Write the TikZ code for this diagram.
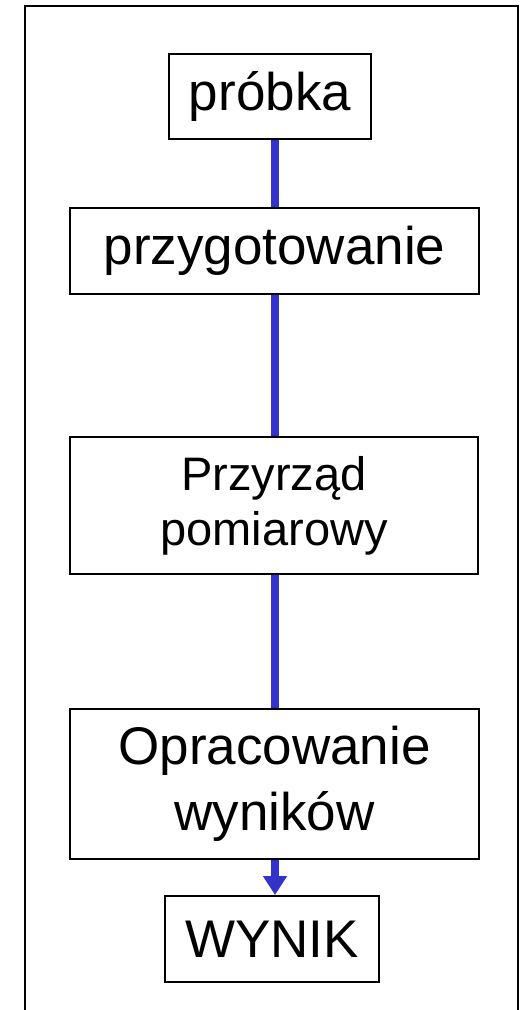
\documentclass[tikz,border=0pt]{standalone}
\usepackage{fontspec}
\setmainfont{Liberation Sans}
\usetikzlibrary{arrows.meta}
\definecolor{flowblue}{HTML}{3333CC}
\begin{document}
\begin{tikzpicture}[x=1pt,y=-1pt,
  stepbox/.style={draw=black, line width=2pt, fill=white, inner sep=0pt, align=center, text=black},
  flow/.style={draw=flowblue, line width=8pt},
  bigfont/.style={font=\fontsize{53}{66}\selectfont},
  midfont/.style={font=\fontsize{47}{55}\selectfont}]
\useasboundingbox (0,0) rectangle (528,1010);
\clip (0,0) rectangle (528,1010);
\draw[line width=2pt] (25,1040) -- (25,6) -- (518,6) -- (518,1040);
\coordinate (linex) at (275,0);
\node[stepbox, bigfont, minimum width=202pt, minimum height=85pt] (probka) at (270,96.5) {próbka};
\node[stepbox, bigfont, minimum width=409pt, minimum height=86pt] (przyg) at (274.5,251) {przygotowanie};
\node[stepbox, midfont, minimum width=408pt, minimum height=137pt] (przyrzad) at (274,505.5) {Przyrząd\\pomiarowy};
\node[stepbox, bigfont, minimum width=409pt, minimum height=150pt] (oprac) at (274.5,784) {Opracowanie\\wyników};
\node[stepbox, bigfont, minimum width=214pt, minimum height=86pt] (wynik) at (272,939) {WYNIK};
\draw[flow] (probka.south -| linex) -- (przyg.north -| linex);
\draw[flow] (przyg.south -| linex) -- (przyrzad.north -| linex);
\draw[flow] (przyrzad.south -| linex) -- (oprac.north -| linex);
\draw[flow, -{Triangle[width=23pt,length=19pt]}] (oprac.south -| linex) -- (wynik.north -| linex);
\end{tikzpicture}
\end{document}
